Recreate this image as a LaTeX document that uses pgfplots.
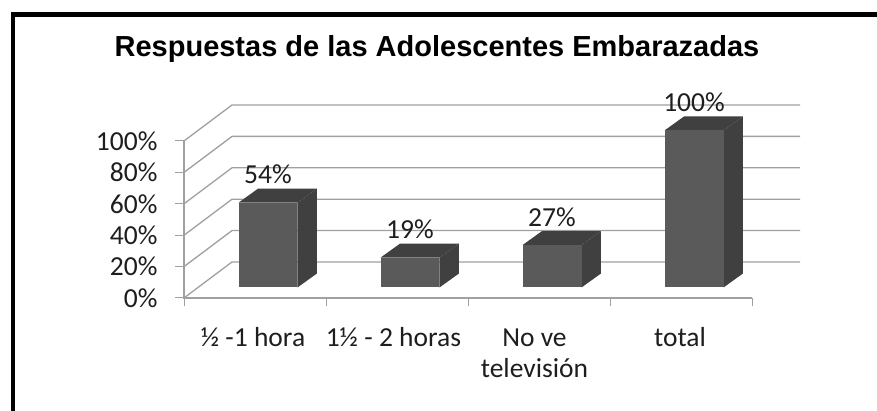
\documentclass[border=0pt]{standalone}
\usepackage{pgfplots}
\pgfplotsset{compat=1.18}
\usepackage{fontspec}
\setmainfont{Carlito}
\newfontfamily\titlefont{Liberation Sans}
\definecolor{gridgray}{HTML}{A0A0A0}
\definecolor{barfront}{HTML}{5A5A5A}
\definecolor{barshade}{HTML}{404040}
\definecolor{inktext}{HTML}{1E1E1E}

% Shear of the pseudo-3D drawing, in axis units
\def\wallx{0.338}
\def\wally{22.93}
\def\depthx{0.137}
\def\depthy{8.9}
\def\halfw{0.2077}
\def\barbase{6.7}

% Back wall gridline and its diagonal on the left side wall, for one percentage
\newcommand\wallline[1]{%
  \pgfmathsetmacro\ya{#1+\wally}%
  \edef\temp{\noexpand\addplot[gridgray,line width=1.3pt] coordinates
    {(0,#1) (\wallx,\ya) (4.338,\ya)};}\temp}

% One bar: front face, side face and top face, from its centre and value
\newcommand\solidbar[2]{%
  \pgfmathsetmacro\xl{#1-\halfw}%
  \pgfmathsetmacro\xr{#1+\halfw}%
  \pgfmathsetmacro\xbl{\xl+\depthx}%
  \pgfmathsetmacro\xbr{\xr+\depthx}%
  \pgfmathsetmacro\yt{\barbase+#2}%
  \pgfmathsetmacro\ybt{\yt+\depthy}%
  \pgfmathsetmacro\ybb{\barbase+\depthy}%
  \edef\temp{%
    \noexpand\addplot[fill=barshade,draw=none] coordinates
      {(\xr,\barbase) (\xbr,\ybb) (\xbr,\ybt) (\xr,\yt)} --cycle;
    \noexpand\addplot[fill=barshade,draw=none] coordinates
      {(\xl,\yt) (\xr,\yt) (\xbr,\ybt) (\xbl,\ybt)} --cycle;
    \noexpand\addplot[fill=barfront,draw=none] coordinates
      {(\xl,\barbase) (\xr,\barbase) (\xr,\yt) (\xl,\yt)} --cycle;
  }\temp}

\begin{document}
\begin{tikzpicture}[x=1pt,y=1pt]
\path[use as bounding box,fill=white] (0,0) rectangle (877,411);
\draw[black,line width=4.4pt] (13.2,0) -- (13.2,396.5) -- (877,396.5);
\begin{axis}[
  at={(184pt,113pt)},anchor=south west,
  scale only axis,width=616pt,height=193pt,
  xmin=0,xmax=4.338,ymin=0,ymax=122.93,
  clip=false,
  axis line style={draw=none},
  tick align=outside,
  xtick pos=bottom,ytick pos=left,
  ytick={0,20,40,60,80,100},
  /pgf/number format/assume math mode=true,
  yticklabel={\pgfmathprintnumber{\tick}\%},
  xtick={0.486,1.475,2.468,3.493},
  xticklabels={{\strut ½ -1 hora},{\strut 1½ - 2 horas},{\strut No ve\\televisión},{\strut total}},
  minor xtick={0,1,2,3,4},
  major tick length=9pt,minor tick length=8pt,
  major x tick style={draw=none},
  minor x tick style={gridgray,line width=1pt},
  major y tick style={gridgray,line width=1pt},
  tick label style={font=\fontsize{27.5}{31}\selectfont,text=inktext},
  xticklabel style={align=center,anchor=north,yshift=-14pt},
  yticklabel style={anchor=east,xshift=-14pt},
  title={Respuestas de las Adolescentes Embarazadas},
  title style={at={(rel axis cs:0.4107,1.2503)},anchor=base,yshift=0pt,
    font=\titlefont\bfseries\fontsize{29}{33}\selectfont},
  every axis title shift=0pt,
]
  % walls and floor
  \addplot[gridgray,line width=1.3pt] coordinates {(0,100) (0,0) (4,0)};
  \wallline{0}
  \wallline{20}
  \wallline{40}
  \wallline{60}
  \wallline{80}
  \wallline{100}

  % bars
  \solidbar{0.5915}{54}
  \solidbar{1.5915}{19}
  \solidbar{2.5915}{27}
  \solidbar{3.5915}{100}

  % value labels above the bars
  \addplot[draw=none,mark=none,
    point meta=explicit,
    nodes near coords={\pgfmathprintnumber{\pgfplotspointmeta}\%},
    nodes near coords style={anchor=base,yshift=19pt,inner sep=0pt,
      font=\fontsize{27.5}{31}\selectfont,text=inktext}]
    table[x=x,y=y,meta=v] {
      x      y      v
      0.5915 60.7   54
      1.5915 25.7   19
      2.5915 33.7   27
      3.5915 106.7  100
    };
\end{axis}
\end{tikzpicture}
\end{document}
